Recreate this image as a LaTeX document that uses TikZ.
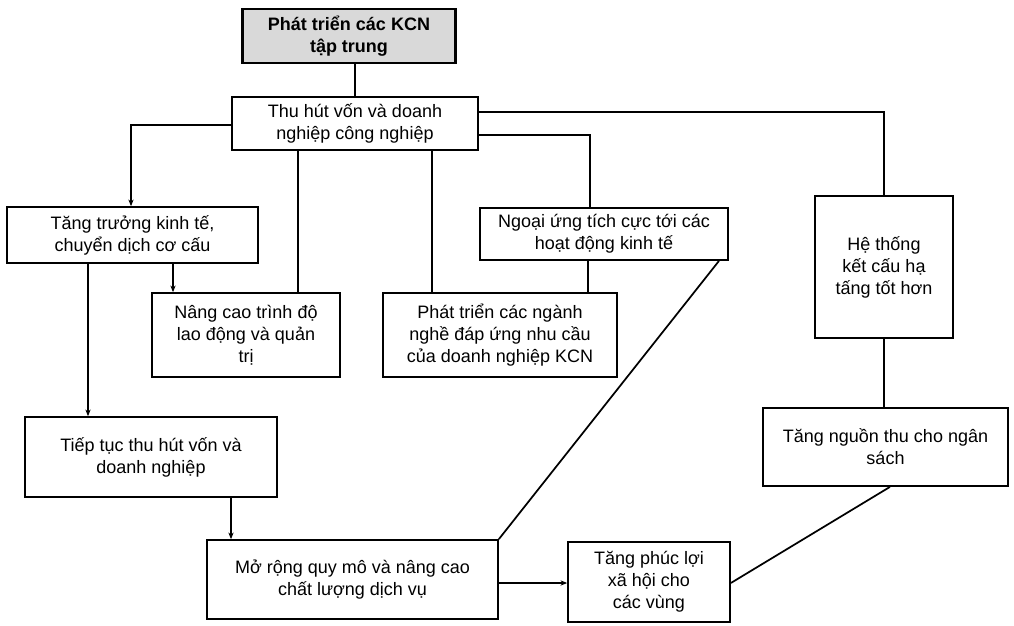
\documentclass[tikz,border=0pt]{standalone}
\usepackage{fontspec}
\setmainfont{Liberation Sans}
\usetikzlibrary{arrows.meta,calc}
\begin{document}
\begin{tikzpicture}[x=0.75pt,y=-0.75pt,
  txt/.style={font=\fontsize{13.5}{16.5}\selectfont},
  box/.style={draw, line width=1.3pt, rectangle, align=center, inner sep=0pt, txt},
  topbox/.style={box, fill=gray!30, line width=1.8pt, font=\bfseries\fontsize{13.5}{16.5}\selectfont},
  conn/.style={line width=1.3pt},
  arr/.style={conn, -{Stealth[length=5pt,width=4pt]}}]
\useasboundingbox (0,0) rectangle (1014,625);

\node[topbox, minimum width=213*0.75pt, minimum height=54*0.75pt] (top) at (349,36) {Phát triển các KCN\\tập trung};
\node[box, minimum width=246*0.75pt, minimum height=53*0.75pt] (thu) at (355,123.5) {Thu hút vốn và doanh\\nghiệp công nghiệp};
\node[box, minimum width=251*0.75pt, minimum height=56*0.75pt] (tt) at (132.5,235) {Tăng trưởng kinh tế,\\chuyển dịch cơ cấu};
\node[box, minimum width=188*0.75pt, minimum height=84*0.75pt] (nc) at (246,335) {Nâng cao trình độ\\lao động và quản\\trị};
\node[box, minimum width=234*0.75pt, minimum height=84*0.75pt] (pt) at (500,335) {Phát triển các ngành\\nghề đáp ứng nhu cầu\\của doanh nghiệp KCN};
\node[box, minimum width=248*0.75pt, minimum height=52*0.75pt] (nu) at (604,234) {Ngoại ứng tích cực tới các\\hoạt động kinh tế};
\node[box, minimum width=138*0.75pt, minimum height=142*0.75pt] (ht) at (884,267) {Hệ thống\\kết cấu hạ\\tấng tốt hơn};
\node[box, minimum width=252*0.75pt, minimum height=80*0.75pt] (tc) at (151,457) {Tiếp tục thu hút vốn và\\doanh nghiệp};
\node[box, minimum width=291*0.75pt, minimum height=79*0.75pt] (mr) at (352.5,579.5) {Mở rộng quy mô và nâng cao\\chất lượng dịch vụ};
\node[box, minimum width=162*0.75pt, minimum height=80*0.75pt] (pl) at (649,582) {Tăng phúc lợi\\xã hội cho\\các vùng};
\node[box, minimum width=245*0.75pt, minimum height=78*0.75pt] (ns) at (885.5,447) {Tăng nguồn thu cho ngân\\sách};

% guide coordinates
\coordinate (x88) at (88,0);
\coordinate (x131) at (131,0);
\coordinate (x173) at (173,0);
\coordinate (x231) at (231,0);
\coordinate (x298) at (298,0);
\coordinate (x432) at (432,0);
\coordinate (x588) at (588,0);
\coordinate (x590) at (590,0);
\coordinate (x719) at (719,0);
\coordinate (x890) at (890,0);
\coordinate (y112) at (0,112);
\coordinate (y125) at (0,125);
\coordinate (y135) at (0,135);
\coordinate (y583) at (0,583);

\draw[conn] (top.south -| thu.north) -- (thu.north);
\draw[conn] (thu.east |- y112) -| (ht.north);
\draw[conn] (thu.east |- y135) -| (nu.north -| x590);
\draw[arr] (thu.west |- y125) -| (tt.north -| x131);
\draw[conn] (thu.south -| x298) -- (nc.north -| x298);
\draw[conn] (thu.south -| x432) -- (pt.north -| x432);
\draw[conn] (nu.south -| x588) -- (pt.north -| x588);
\draw[arr] (tt.south -| x173) -- (nc.north -| x173);
\draw[arr] (tt.south -| x88) -- (tc.north -| x88);
\draw[arr] (tc.south -| x231) -- (mr.north -| x231);
\draw[arr] (mr.east |- y583) -- (pl.west |- y583);
\draw[conn] (nu.south -| x719) -- (mr.north east);
\draw[conn] (ht.south) -- (ns.north -| ht.south);
\draw[conn] (ns.south -| x890) -- (pl.east |- y583);
\end{tikzpicture}
\end{document}
